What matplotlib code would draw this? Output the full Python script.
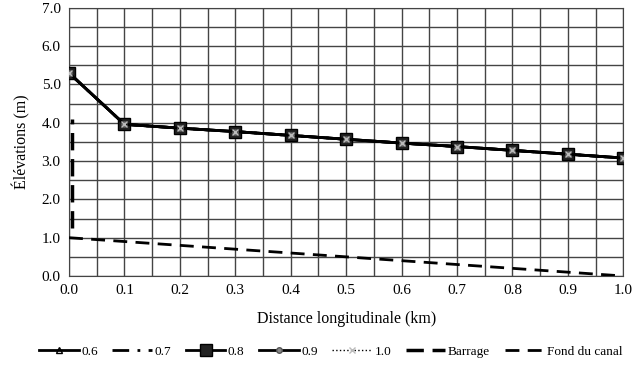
import matplotlib
matplotlib.use("Agg")
import matplotlib.pyplot as plt
from matplotlib.ticker import MultipleLocator

plt.rcParams['font.family'] = ['Liberation Serif', 'DejaVu Serif']

distance = [0.0, 0.1, 0.2, 0.3, 0.4, 0.5, 0.6, 0.7, 0.8, 0.9, 1.0]
elev = [5.3, 3.96, 3.86, 3.77, 3.67, 3.57, 3.47, 3.38, 3.28, 3.18, 3.08]
series_labels = ["0.6", "0.7", "0.8", "0.9", "1.0"]
barrage_x = [0.005, 0.005]
barrage_y = [1.25, 4.1]
fond_x = [0.0, 1.0]
fond_y = [1.0, 0.0]

fig = plt.figure(figsize=(6.36, 3.75), dpi=100)
ax = fig.add_axes([0.1085, 0.264, 0.8715, 0.715])

ax.plot(distance, elev, color='black', lw=2, marker='^', ms=5, mfc='none', mec='black', label=series_labels[0], zorder=3)
ax.plot(distance, elev, color='black', lw=2, ls=(0, (6, 3, 1, 3)), label=series_labels[1], zorder=3)
ax.plot(distance, elev, color='black', lw=2, marker='s', ms=9, mfc='#222222', mec='black', label=series_labels[2], zorder=4)
ax.plot(distance, elev, color='black', lw=2, marker='o', ms=4, mfc='#888888', mec='#555555', label=series_labels[3], zorder=5)
ax.plot(distance, elev, color='black', lw=1, ls=':', marker='x', ms=5, mec='#bbbbbb', label=series_labels[4], zorder=6)
ax.plot(barrage_x, barrage_y, color='black', lw=2.5, ls=(0, (5, 2.5)), label='Barrage', zorder=3)
ax.plot(fond_x, fond_y, color='black', lw=2, ls=(0, (5, 3)), label='Fond du canal', zorder=3)

ax.set_xlim(0, 1.0)
ax.set_ylim(0, 7.0)
ax.xaxis.set_major_locator(MultipleLocator(0.1))
ax.xaxis.set_minor_locator(MultipleLocator(0.05))
ax.yaxis.set_major_locator(MultipleLocator(1.0))
ax.yaxis.set_minor_locator(MultipleLocator(0.5))
ax.xaxis.set_major_formatter(lambda v, p: f"{v:.1f}")
ax.yaxis.set_major_formatter(lambda v, p: f"{v:.1f}")
ax.grid(which='both', color='#444444', lw=1.0)
ax.tick_params(which='both', length=0, labelsize=11, pad=6)
for s in ax.spines.values():
    s.set_color('#444444')

ax.set_xlabel("Distance longitudinale (km)", fontsize=11.5, labelpad=10)
ax.set_ylabel("Élévations (m)", fontsize=11.5, labelpad=8)

fig.legend(loc='center', bbox_to_anchor=(0.52, 0.062), ncol=7, frameon=False,
           fontsize=9.5, handlelength=3.0, columnspacing=1.1, handletextpad=0.2)

fig.savefig("out.png", dpi=100)
